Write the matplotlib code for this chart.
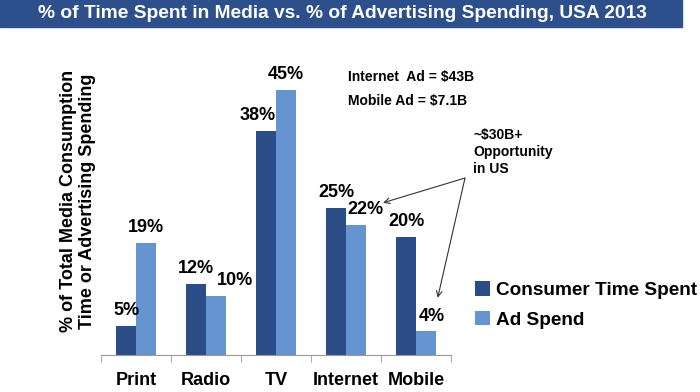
import matplotlib.pyplot as plt
import matplotlib.patches as mpatches
import numpy as np

categories = ["Print", "Radio", "TV", "Internet", "Mobile"]
time_spent = [5, 12, 38, 25, 20]
ad_spend = [19, 10, 45, 22, 4]
series_names = ["Consumer Time Spent", "Ad Spend"]

dark = "#2B4C87"
light = "#6594D1"
banner = "#2D4F8C"

plt.rcParams['font.family'] = ['Liberation Sans', 'DejaVu Sans']
plt.rcParams['font.weight'] = 'bold'

fig = plt.figure(figsize=(7, 3.92), dpi=100)
fig.patch.set_facecolor("white")

# title banner
fig.patches.append(mpatches.Rectangle((0, 1 - 27 / 392), 682 / 700, 27 / 392,
                                      transform=fig.transFigure, color=banner, zorder=0))
fig.text(342 / 700, 1 - 14 / 392, "% of Time Spent in Media vs. % of Advertising Spending, USA 2013",
         color="white", fontsize=13.8, fontweight="bold", ha="center", va="center")

ax = fig.add_axes([101 / 700, 37 / 392, 350 / 700, 295 / 392])
x = np.arange(len(categories))
w = 0.28
ax.bar(x - w / 2, time_spent, w, color=dark, label=series_names[0])
ax.bar(x + w / 2, ad_spend, w, color=light, label=series_names[1])

ax.set_xlim(-0.5, len(categories) - 0.5)
ax.set_ylim(0, 50)
for s in ["top", "right", "left"]:
    ax.spines[s].set_visible(False)
ax.spines["bottom"].set_color("#999999")
ax.set_yticks([])
ax.set_xticks(x)
ax.set_xticklabels(categories, fontsize=13, fontweight="bold")
ax.tick_params(axis="x", which="major", length=0, pad=12)
ax.set_xticks(np.arange(-0.5, len(categories)), minor=True)
ax.tick_params(axis="x", which="minor", length=5, color="#999999")

# label nudges in points (dark, light)
nudge_dark = [0, 0, -6, 0, 0]
nudge_light = [0, 14, 0, 7, 4]
for i in range(len(categories)):
    ax.annotate(f"{time_spent[i]}%", (x[i] - w / 2, time_spent[i]), xytext=(nudge_dark[i], 11),
                textcoords="offset points", ha="center", va="center", fontsize=13, fontweight="bold")
    ax.annotate(f"{ad_spend[i]}%", (x[i] + w / 2, ad_spend[i]), xytext=(nudge_light[i], 11),
                textcoords="offset points", ha="center", va="center", fontsize=13, fontweight="bold")

fig.text(78 / 700, 1 - 201 / 392, "% of Total Media Consumption\nTime or Advertising Spending",
         rotation=90, ha="center", va="center", multialignment="center", fontsize=13, fontweight="bold")

fig.text(348 / 700, 1 - 77 / 392, "Internet  Ad = $43B", fontsize=10, fontweight="bold", va="center")
fig.text(348 / 700, 1 - 101 / 392, "Mobile Ad = $7.1B", fontsize=10, fontweight="bold", va="center")
fig.text(473 / 700, 1 - 152 / 392, "~$30B+\nOpportunity\nin US", fontsize=10, fontweight="bold",
         va="center", linespacing=1.25)

start = (4.7, 30)
for tip in [(3.53, 25.8), (4.31, 9.7)]:
    ax.annotate("", xy=tip, xytext=start, annotation_clip=False,
                arrowprops=dict(arrowstyle="->", color="#333333", lw=0.8, shrinkA=0, shrinkB=0))

leg = ax.legend(loc="center left", bbox_to_anchor=(458 / 700, 1 - 305 / 392),
                bbox_transform=fig.transFigure, frameon=False, fontsize=13.7,
                handlelength=0.8, handleheight=0.8, handletextpad=0.3, labelspacing=0.6)

fig.savefig("out.png", dpi=100)
